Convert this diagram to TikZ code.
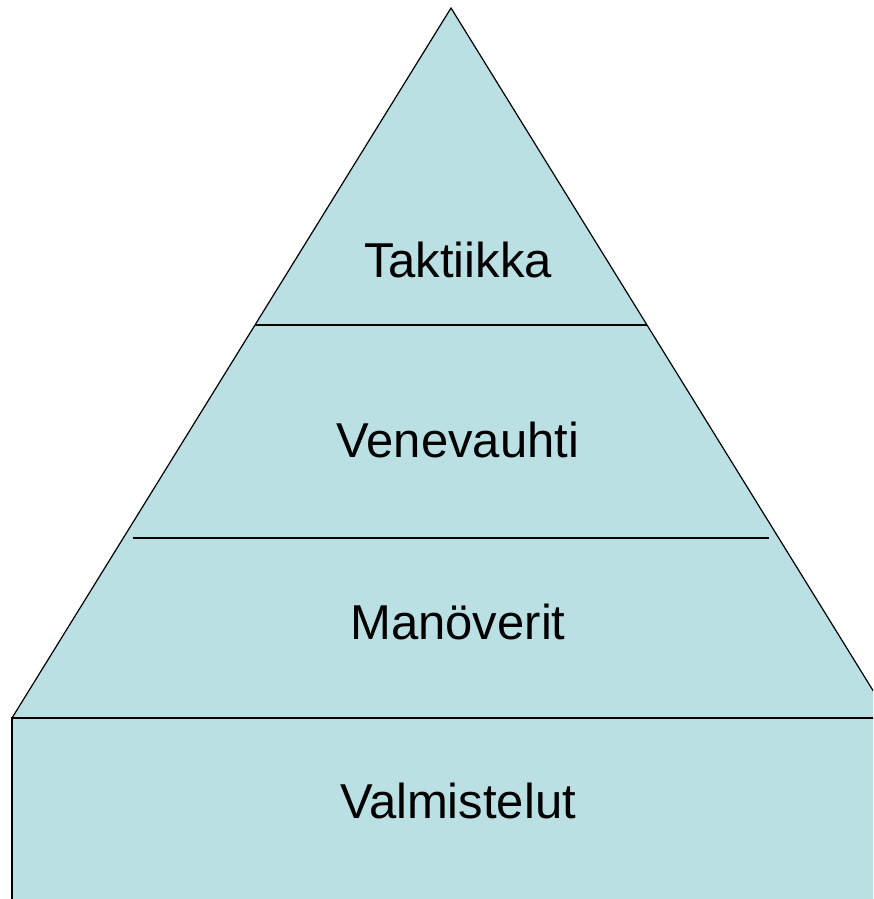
\documentclass[tikz,border=0pt]{standalone}
\usepackage{fontspec}
\setmainfont{Liberation Sans}
\usepackage{tikz}
\definecolor{pyrfill}{RGB}{186,224,227}
\tikzstyle{level} = [font=\fontsize{49}{58}\selectfont,anchor=base]
\tikzstyle{edge} = [line width=1.2pt]

\begin{document}
\begin{tikzpicture}[x=1pt,y=-1pt]
\useasboundingbox (0,0) rectangle (873,899);
\clip (0,0) rectangle (873,899);

% pyramid and base block
\fill[pyrfill] (451,8) -- (890,718) -- (12,718) -- cycle;
\fill[pyrfill] (12,718) rectangle (900,920);
\draw[edge] (12,718) -- (451,8) -- (890,718);
\draw[edge] (12,920) -- (12,718) -- (900,718);

% dividing lines
\draw[edge] (255,325) -- (647,325);
\draw[edge] (133,538) -- (769,538);

\node[level] (taktiikka) at (458,277) {Taktiikka};
\node[level] (venevauhti) at (458,457) {Venevauhti};
\node[level] (manoverit) at (458,639) {Manöverit};
\node[level] (valmistelut) at (458,818) {Valmistelut};

\end{tikzpicture}
\end{document}
